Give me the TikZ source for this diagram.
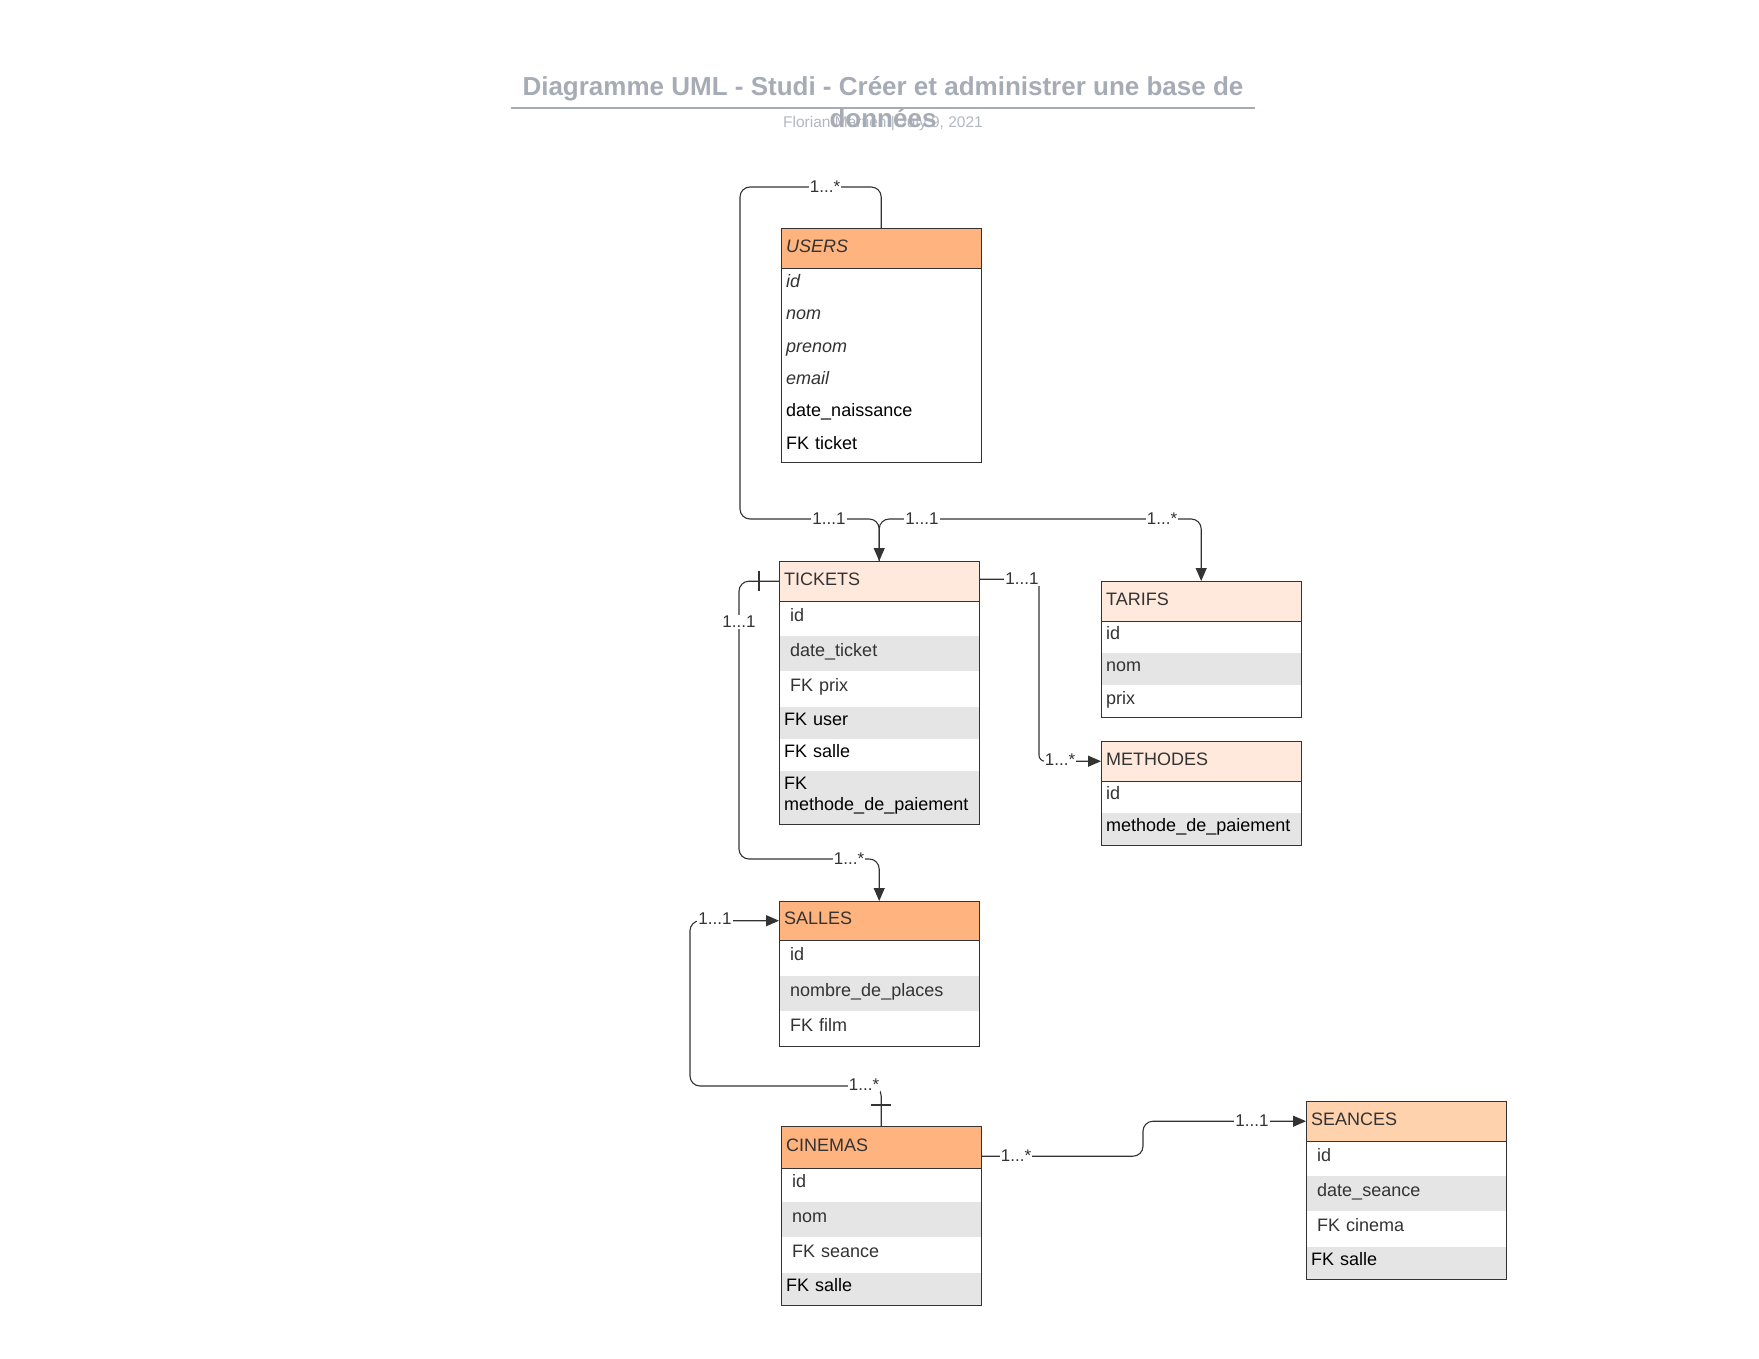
\documentclass[tikz,border=0pt]{standalone}
\usepackage{fontspec}
\setmainfont{Liberation Sans}
\usetikzlibrary{arrows.meta,calc}

\definecolor{hdrA}{HTML}{FFB47F}
\definecolor{hdrB}{HTML}{FFE9DD}
\definecolor{hdrC}{HTML}{FFD2AE}
\definecolor{rowgray}{HTML}{E5E5E5}
\definecolor{ink}{HTML}{333333}
\definecolor{titlegray}{HTML}{A6ACB6}
\definecolor{subgray}{HTML}{B3B8C0}

\newcommand\ffont{\fontsize{18}{21}\selectfont}
\newcommand\lfont{\fontsize{17}{20}\selectfont}
\newcommand\ind{\hspace*{6pt}}
\newcommand\rowstrut{\rule[-7.8pt]{0pt}{21pt}}

\tikzset{
  hdr/.style={anchor=north west, minimum height=#1, text width=190pt,
    inner xsep=5pt, inner ysep=0pt, align=left, font=\ffont, text=ink,
    execute at begin node=\strut, execute at end node=\strut},
  fld/.style={anchor=north west, minimum height=#1, text width=190pt,
    inner xsep=5pt, inner ysep=0pt, align=left, font=\ffont, text=ink,
    execute at begin node=\rowstrut, execute at end node=\rowstrut},
  gray/.style={fill=rowgray},
  blk/.style={text=black},
  box/.style={draw=ink, line width=1pt},
  conn/.style={draw=ink, line width=1.1pt, rounded corners=10pt},
  arr/.style={-{Triangle[length=13pt,width=11pt]}},
  bar/.style={draw=ink, line width=1.1pt},
  lbl/.style={fill=white, inner sep=1pt, font=\lfont, text=ink},
}

\begin{document}
\begin{tikzpicture}[x=1pt,y=-1pt]
\useasboundingbox (0,0) rectangle (1759,1359);
\fill[white] (0,0) rectangle (1759,1359);

% heading
\node[font=\fontsize{15.5}{18}\selectfont, text=subgray] (subtitle) at (883,124) {Florian Martien | July 9, 2021};
\draw[titlegray, line width=2pt] (511,108) -- (1255,108);
\node[font=\bfseries\fontsize{26}{32}\selectfont, text=titlegray, align=center] (title) at (883,102)
  {Diagramme UML - Studi - Créer et administrer une base de\\données};

% USERS
\node[hdr=39, fill=hdrA, font=\ffont\itshape] (users) at (781,229) {USERS};
\node[fld=32] (users-1) at (users.south west) {\textit{id}};
\node[fld=32] (users-2) at (users-1.south west) {\textit{nom}};
\node[fld=32] (users-3) at (users-2.south west) {\textit{prenom}};
\node[fld=32] (users-4) at (users-3.south west) {\textit{email}};
\node[fld=32, blk] (users-5) at (users-4.south west) {date\_naissance};
\node[fld=32, blk] (users-6) at (users-5.south west) {FK ticket};
\draw[box] (users.north west) rectangle (users-6.south east);
\draw[box] (users.south west) -- (users.south east);

% TICKETS
\node[hdr=40, fill=hdrB] (tickets) at (779,561) {TICKETS};
\node[fld=34] (tickets-1) at (tickets.south west) {\ind id};
\node[fld=35, gray] (tickets-2) at (tickets-1.south west) {\ind date\_ticket};
\node[fld=35] (tickets-3) at (tickets-2.south west) {\ind FK prix};
\node[fld=32, gray, blk] (tickets-4) at (tickets-3.south west) {FK user};
\node[fld=31, blk] (tickets-5) at (tickets-4.south west) {FK salle};
\node[fld=54, gray, blk] (tickets-6) at (tickets-5.south west) {FK\\methode\_de\_paiement};
\draw[box] (tickets.north west) rectangle (tickets-6.south east);
\draw[box] (tickets.south west) -- (tickets.south east);

% TARIFS
\node[hdr=40, fill=hdrB] (tarifs) at (1101,581) {TARIFS};
\node[fld=31] (tarifs-1) at (tarifs.south west) {id};
\node[fld=32, gray] (tarifs-2) at (tarifs-1.south west) {nom};
\node[fld=32] (tarifs-3) at (tarifs-2.south west) {prix};
\draw[box] (tarifs.north west) rectangle (tarifs-3.south east);
\draw[box] (tarifs.south west) -- (tarifs.south east);

% METHODES
\node[hdr=40, fill=hdrB] (methodes) at (1101,741) {METHODES};
\node[fld=31] (methodes-1) at (methodes.south west) {id};
\node[fld=32, gray, blk] (methodes-2) at (methodes-1.south west) {methode\_de\_paiement};
\draw[box] (methodes.north west) rectangle (methodes-2.south east);
\draw[box] (methodes.south west) -- (methodes.south east);

% SALLES
\node[hdr=39, fill=hdrA] (salles) at (779,901) {SALLES};
\node[fld=35] (salles-1) at (salles.south west) {\ind id};
\node[fld=35, gray] (salles-2) at (salles-1.south west) {\ind nombre\_de\_places};
\node[fld=35] (salles-3) at (salles-2.south west) {\ind FK film};
\draw[box] (salles.north west) rectangle (salles-3.south east);
\draw[box] (salles.south west) -- (salles.south east);

% CINEMAS
\node[hdr=42, fill=hdrA] (cinemas) at (781,1126) {CINEMAS};
\node[fld=33] (cinemas-1) at (cinemas.south west) {\ind id};
\node[fld=35, gray] (cinemas-2) at (cinemas-1.south west) {\ind nom};
\node[fld=35] (cinemas-3) at (cinemas-2.south west) {\ind FK seance};
\node[fld=32, gray, blk] (cinemas-4) at (cinemas-3.south west) {FK salle};
\draw[box] (cinemas.north west) rectangle (cinemas-4.south east);
\draw[box] (cinemas.south west) -- (cinemas.south east);

% SEANCES
\node[hdr=40, fill=hdrC] (seances) at (1306,1101) {SEANCES};
\node[fld=34] (seances-1) at (seances.south west) {\ind id};
\node[fld=35, gray] (seances-2) at (seances-1.south west) {\ind date\_seance};
\node[fld=35] (seances-3) at (seances-2.south west) {\ind FK cinema};
\node[fld=32, gray, blk] (seances-4) at (seances-3.south west) {FK salle};
\draw[box] (seances.north west) rectangle (seances-4.south east);
\draw[box] (seances.south west) -- (seances.south east);

% routing guides
\coordinate (topY) at (0,187);
\coordinate (loopX) at (740,0);
\coordinate (busY) at (0,519);
\coordinate (mX) at (1039,0);
\coordinate (tsX) at (739,0);
\coordinate (tsY) at (0,859);
\coordinate (csX) at (690,0);
\coordinate (csY) at (0,1086);
\coordinate (scX) at (1143,0);

% connectors
\draw[conn, arr] (users.north) -- (users.north |- topY) -- (loopX |- topY)
  -- (loopX |- busY) -- (tickets.north |- busY) -- (tickets.north);
\draw[conn, arr] (tickets.north) -- (tickets.north |- busY)
  -- (tarifs.north |- busY) -- (tarifs.north);
\draw[conn, arr, rounded corners=6pt] ([yshift=2pt]tickets.east) -- ([yshift=2pt]tickets.east -| mX)
  -- (mX |- methodes.west) -- (methodes.west);
\draw[conn, arr] (tickets.west) -- (tickets.west -| tsX) -- (tsX |- tsY)
  -- (salles.north |- tsY) -- (salles.north);
\draw[conn, arr] (cinemas.north) -- (cinemas.north |- csY) -- (csX |- csY)
  -- (csX |- salles.west) -- (salles.west);
\draw[conn, arr] ([yshift=-9pt]cinemas.east) -- ([yshift=-9pt]cinemas.east -| scX)
  -- (scX |- seances.west) -- (seances.west);

% one-end bars
\draw[bar] ([xshift=-20pt,yshift=10pt]tickets.west) -- ([xshift=-20pt,yshift=-10pt]tickets.west);
\draw[bar] ([xshift=-10pt,yshift=21pt]cinemas.north) -- ([xshift=10pt,yshift=21pt]cinemas.north);

% multiplicities
\node[lbl] (m1) at (825,187) {1...*};
\node[lbl] (m2) at (829,519) {1...1};
\node[lbl] (m3) at (922,519) {1...1};
\node[lbl] (m4) at (1162,519) {1...*};
\node[lbl] (m5) at (1022,579) {1...1};
\node[lbl] (m6) at (1060,760) {1...*};
\node[lbl] (m7) at (739,622) {1...1};
\node[lbl] (m8) at (849,859) {1...*};
\node[lbl] (m9) at (715,919) {1...1};
\node[lbl] (m10) at (864,1085) {1...*};
\node[lbl] (m11) at (1016,1156) {1...*};
\node[lbl] (m12) at (1252,1121) {1...1};
\end{tikzpicture}
\end{document}
